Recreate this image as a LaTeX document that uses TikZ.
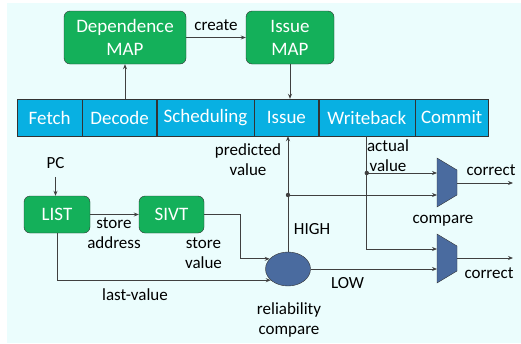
\documentclass[tikz,border=0pt]{standalone}
\usepackage{fontspec}
\setmainfont{Carlito}
\usetikzlibrary{arrows.meta,shapes.geometric}
\begin{document}
\begin{tikzpicture}[x=1pt, y=-1pt,
  greenbox/.style={draw=black!80, fill=boxgreen, rounded corners=6pt, text=white, align=center, font=\fontsize{19}{23}\selectfont, inner sep=0pt},
  stagebox/.style={draw=black!80, fill=barcyan, text=white, font=\fontsize{19}{20}\selectfont, minimum height=37pt, inner sep=0pt, anchor=west},
  lbl/.style={align=center, font=\fontsize{17}{20}\selectfont, inner sep=0pt},
  wire/.style={draw=black!75, line width=0.8pt},
  arr/.style={wire, -{Stealth[length=5pt,width=4pt]}}]
\definecolor{bg}{HTML}{EBFDFD}
\definecolor{boxgreen}{HTML}{14B05A}
\definecolor{barcyan}{HTML}{08B0E2}
\definecolor{unitblue}{HTML}{4A6B9F}
\useasboundingbox (0,0) rectangle (521,343);
\fill[bg] (7,3) rectangle (521,343);
% maps
\node[greenbox, minimum width=122pt, minimum height=53pt] (dep) at (125,37.5) {Dependence\\MAP};
\node[greenbox, minimum width=88pt, minimum height=53pt] (imap) at (290,37.5) {Issue\\MAP};
% pipeline
\node[stagebox, minimum width=65pt] (fetch) at (17,117.5) {Fetch};
\node[stagebox, minimum width=74pt] (decode) at (fetch.east) {Decode};
\node[stagebox, minimum width=97pt] (sched) at (decode.east) {Scheduling};
\node[stagebox, minimum width=64pt] (issue) at (sched.east) {Issue};
\node[stagebox, minimum width=96pt] (wb) at (issue.east) {Writeback};
\node[stagebox, minimum width=73pt] (commit) at (wb.east) {Commit};
% predictor
\node[lbl] (pc) at (55.5,163) {PC};
\node[greenbox, minimum width=66pt, minimum height=37pt] (list) at (57,214.5) {LIST};
\node[greenbox, minimum width=65pt, minimum height=37pt] (sivt) at (171.5,214.5) {SIVT};
\node[ellipse, draw=black!80, fill=unitblue, minimum width=45pt, minimum height=34pt, inner sep=0pt] (rel) at (288,269) {};
% comparators
\filldraw[fill=unitblue, draw=black!80] (437,158) -- (457,170) -- (457,195) -- (437,207) -- cycle;
\filldraw[fill=unitblue, draw=black!80] (437,234) -- (457,246) -- (457,271) -- (437,283) -- cycle;
\coordinate (inA1) at (437,173);
\coordinate (inA2) at (437,195);
\coordinate (outA) at (457,183);
\coordinate (endA) at (513,183);
\coordinate (inB1) at (437,249);
\coordinate (inB2) at (437,269);
\coordinate (outB) at (457,258);
\coordinate (endB) at (513,258);
% connectors
\draw[arr] (dep.east) -- (imap.west);
\draw[arr] (dep.south |- decode.north) -- (dep.south);
\draw[arr] (imap.south) -- (imap.south |- issue.north);
\draw[arr] (pc.south) ++(0,8) -- (pc.south |- list.north);
\draw[arr] (list.east) -- (sivt.west);
\draw[arr] (sivt.east) -- ++(36,0) |- (rel.151);
\draw[arr] (list.south) |- (rel.213);
\draw[arr] (rel.north) -- (rel.north |- issue.south);
\draw[arr] (rel.north |- inA2) -- (inA2);
\fill[black!75] (rel.north |- inA2) circle (2.2pt);
\draw[arr] (wb.south) |- (inB1);
\draw[arr] (wb.south |- inA1) -- (inA1);
\fill[black!75] (wb.south |- inA1) circle (2.2pt);
\draw[arr] (rel.east) -- (inB2);
\draw[arr] (outA) -- (endA);
\draw[arr] (outB) -- (endB);
% labels
\node[lbl] (lcreate) at (216,25) {create};
\node[lbl] (lpred) at (248,160) {predicted\\value};
\node[lbl] (lactual) at (388,155.5) {actual\\value};
\node[lbl] (laddr) at (114,233.5) {store\\address};
\node[lbl] (lstval) at (203.5,253.5) {store\\value};
\node[lbl] (llast) at (135,295) {last-value};
\node[lbl] (lrel) at (289,320) {reliability\\compare};
\node[lbl] (lhigh) at (312,229) {HIGH};
\node[lbl] (llow) at (347.5,283) {LOW};
\node[lbl] (lcmp) at (443,221) {compare};
\node[lbl] (lcorA) at (491,170) {correct};
\node[lbl] (lcorB) at (489,273) {correct};
\end{tikzpicture}
\end{document}
